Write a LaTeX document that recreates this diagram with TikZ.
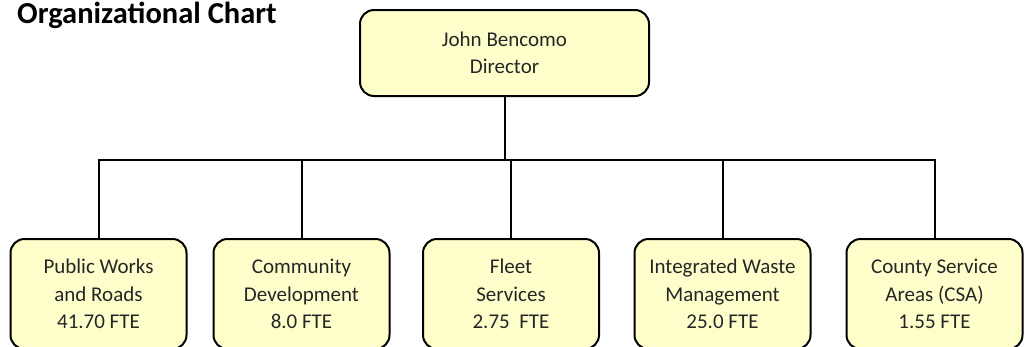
\documentclass[tikz,border=0pt]{standalone}
\usepackage{fontspec}
\setmainfont{Carlito}
\definecolor{boxfill}{HTML}{FFFFCC}

\begin{document}
\begin{tikzpicture}[x=1pt,y=-1pt]
\tikzset{unit/.style={draw, line width=2pt, fill=boxfill, rounded corners=14pt,
    align=center, inner sep=0pt, text=black!85,
    font=\fontsize{21}{27.5}\selectfont},
  link/.style={line width=2pt}}
\useasboundingbox (0,0) rectangle (1031,346);
% Title
\node[anchor=base west, inner sep=0pt, font=\fontsize{30.5}{32}\selectfont\bfseries] (title) at (17,23) {Organizational Chart};
% Director
\node[unit, minimum width=289, minimum height=86] (dir) at (504.5,53) {John Bencomo\\Director};
% Divisions
\foreach \x/\t [count=\i] in {98.5/{Public Works\\and Roads\\41.70 FTE},
    301.5/{Community\\Development\\8.0 FTE},
    511/{Fleet\\Services\\2.75~ FTE},
    722.5/{Integrated Waste\\Management\\25.0 FTE},
    934.5/{County Service\\Areas (CSA)\\1.55 FTE}}
  \node[unit, minimum width=176, minimum height=110] (div\i) at (\x,294) {\t};
% Links
\coordinate (bar) at (504.5,159.5);
\foreach \i in {1,...,5}
  \draw[link] (dir.south) -- (dir.south |- bar) -| (div\i.north);
\end{tikzpicture}
\end{document}
